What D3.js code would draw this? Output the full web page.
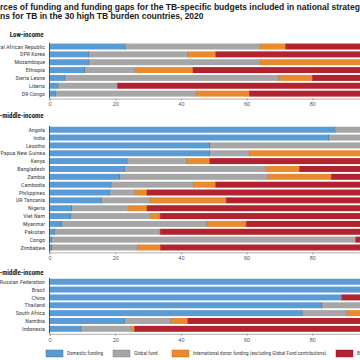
<!DOCTYPE html>
<html><head><meta charset="utf-8">
<script src="https://cdn.jsdelivr.net/npm/d3@7"></script>
<style>
html,body{margin:0;padding:0;background:#fff;overflow:hidden;}
svg{display:block;}
text{font-family:"Liberation Sans Narrow","Roboto Condensed","Arial Narrow","Liberation Sans",sans-serif;}
</style></head>
<body><svg id="c" width="360" height="360"></svg>
<script>
const titleLines = ["Sources of funding and funding gaps for the TB-specific budgets included in national strategic",
                    "plans for TB in the 30 high TB burden countries, 2020"];
const seriesNames = ["Domestic funding","Global fund","International donor funding (excluding Global Fund contributions)","Budget gap"];
const seriesColors = ["#5b9bd5","#a6a6a6","#e98a2f","#b3232f"];
const edgeColors = ["#2c5f8f","#6e6e6e","#a85a15","#7a1219"];
const ticks = [0,20,40,60,80,100];

const lowCountries = ["Central African Republic","DPR Korea","Mozambique","Ethiopia","Sierra Leone","Liberia","DR Congo"];
const lowDomestic = [23.1,12.1,12.1,10.8,4.8,2.7,1.9];
const lowGlobal   = [41.1,30.1,52.1,15.3,65.0,18.0,42.8];
const lowDonor    = [7.7,8.4,35.8,17.6,10.2,0,16.2];
const lowGap      = [28.1,49.4,0,56.3,20.0,79.3,39.1];

const lmCountries = ["Angola","India","Lesotho","Papua New Guinea","Kenya","Bangladesh","Zambia","Cambodia","Philippines","UR Tanzania","Nigeria","Viet Nam","Myanmar","Pakistan","Congo","Zimbabwe"];
const lmDomestic = [87.0,85.1,48.9,48.9,23.7,23.0,21.5,18.8,18.3,15.8,6.8,6.6,3.8,1.6,0.7,0.7];
const lmGlobal   = [13.0,14.9,51.1,12.1,18.1,43.0,45.1,25.2,7.8,14.9,17.2,24.1,44.1,32.1,92.5,26.3];
const lmDonor    = [0,0,0,39.0,7.0,10.1,19.2,6.6,3.6,23.1,5.7,3.0,12.0,0,0,6.8];
const lmGap      = [0,0,0,0,51.2,23.9,14.2,49.4,70.3,46.2,70.3,66.3,40.1,66.3,6.8,66.2];

const umCountries = ["Russian Federation","Brazil","China","Thailand","South Africa","Namibia","Indonesia"];
const umDomestic = [100,100,89.0,83.0,77.0,22.9,9.7];
const umGlobal   = [0,0,0,17.0,13.6,14.1,15.2];
const umDonor    = [0,0,0,0,9.4,5.1,1.0];
const umGap      = [0,0,11.0,0,0,57.9,74.1];

const groups = [
  {name:"Low-income", countries:lowCountries, vals:[lowDomestic,lowGlobal,lowDonor,lowGap], top:42.6, header:36.5},
  {name:"Lower-middle-income", countries:lmCountries, vals:[lmDomestic,lmGlobal,lmDonor,lmGap], top:125.8, header:117.5},
  {name:"Upper-middle-income", countries:umCountries, vals:[umDomestic,umGlobal,umDonor,umGap], top:277.8, header:274.5}
];

const svg = d3.select("#c");
const step = 7.85;
const x = d3.scaleLinear().domain([0,100]).range([49.5,378]);

// Title
const tg = svg.append("g");
titleLines.forEach((line,i)=>{
  const cut = i===0 ? "Sou" : "pla";
  const fs = 8.5;
  const probe = tg.append("text").attr("font-size",fs).attr("font-weight","bold")
    .style("font-family","'Liberation Sans','Arial',sans-serif").text(cut);
  const w = probe.node().getComputedTextLength();
  probe.remove();
  tg.append("text").attr("x",-w).attr("y",9.5+i*9.6).attr("font-size",fs).attr("font-weight","bold")
    .attr("fill","#1a1a1a").style("font-family","'Liberation Sans','Arial',sans-serif").text(line);
});

groups.forEach(g=>{
  const y = d3.scaleBand().domain(g.countries).range([g.top, g.top+step*g.countries.length]).paddingInner(0.24).paddingOuter(0.12);
  const gg = svg.append("g");
  gg.append("text").attr("x",43.5).attr("y",g.header).attr("text-anchor","end")
    .attr("font-size",6.9).attr("font-weight","bold").attr("fill","#1a1a1a").text(g.name);
  const stackData = g.countries.map((c,i)=>{
    const o={country:c}; seriesNames.forEach((s,k)=>o[s]=g.vals[k][i]); return o;});
  const stacked = d3.stack().keys(seriesNames)(stackData);
  stacked.forEach((layer,k)=>{
    gg.append("g").selectAll("rect").data(layer).join("rect")
      .attr("x",d=>x(d[0])).attr("y",d=>y(d.data.country))
      .attr("width",d=>Math.max(0,x(d[1])-x(d[0]))).attr("height",y.bandwidth())
      .attr("fill",seriesColors[k]);
    gg.append("g").selectAll("line").data(layer.filter(d=>d[1]-d[0]>0 && d[1]<100)).join("line")
      .attr("x1",d=>x(d[1])).attr("x2",d=>x(d[1]))
      .attr("y1",d=>y(d.data.country)).attr("y2",d=>y(d.data.country)+y.bandwidth())
      .attr("stroke",edgeColors[k]).attr("stroke-width",0.8);
  });
  // labels
  gg.append("g").selectAll("text").data(g.countries).join("text")
    .attr("x",45).attr("y",d=>y(d)+y.bandwidth()/2).attr("dy","0.35em")
    .attr("text-anchor","end").attr("font-size",6).attr("fill","#444").text(d=>d);
  // left axis line
  const yEnd = g.top+step*g.countries.length;
  gg.append("line").attr("x1",x(0)).attr("x2",x(0)).attr("y1",g.top).attr("y2",yEnd+1)
    .attr("stroke","#333").attr("stroke-width",0.8);
  // bottom axis
  const ax = gg.append("g").attr("transform",`translate(0,${yEnd+1})`)
    .call(d3.axisBottom(x).tickValues(ticks).tickSize(2).tickPadding(2).tickFormat(d3.format("d")));
  ax.select(".domain").attr("stroke","#777").attr("stroke-width",0.6);
  ax.selectAll(".tick line").attr("stroke","#777").attr("stroke-width",0.6);
  ax.selectAll(".tick text").attr("font-size",5.5).attr("fill","#555")
    .style("font-family","'Liberation Sans Narrow','Liberation Sans',sans-serif");
});

// legend
const legX = [46,113,172,336];
const lg = svg.append("g");
seriesNames.forEach((s,k)=>{
  lg.append("rect").attr("x",legX[k]).attr("y",350).attr("width",17).attr("height",7)
    .attr("fill",seriesColors[k]).attr("stroke",edgeColors[k]).attr("stroke-width",0.4);
  lg.append("text").attr("x",legX[k]+21).attr("y",353.6).attr("dy","0.35em")
    .attr("font-size",5.2).attr("fill","#444").text(s);
});
</script></body></html>
